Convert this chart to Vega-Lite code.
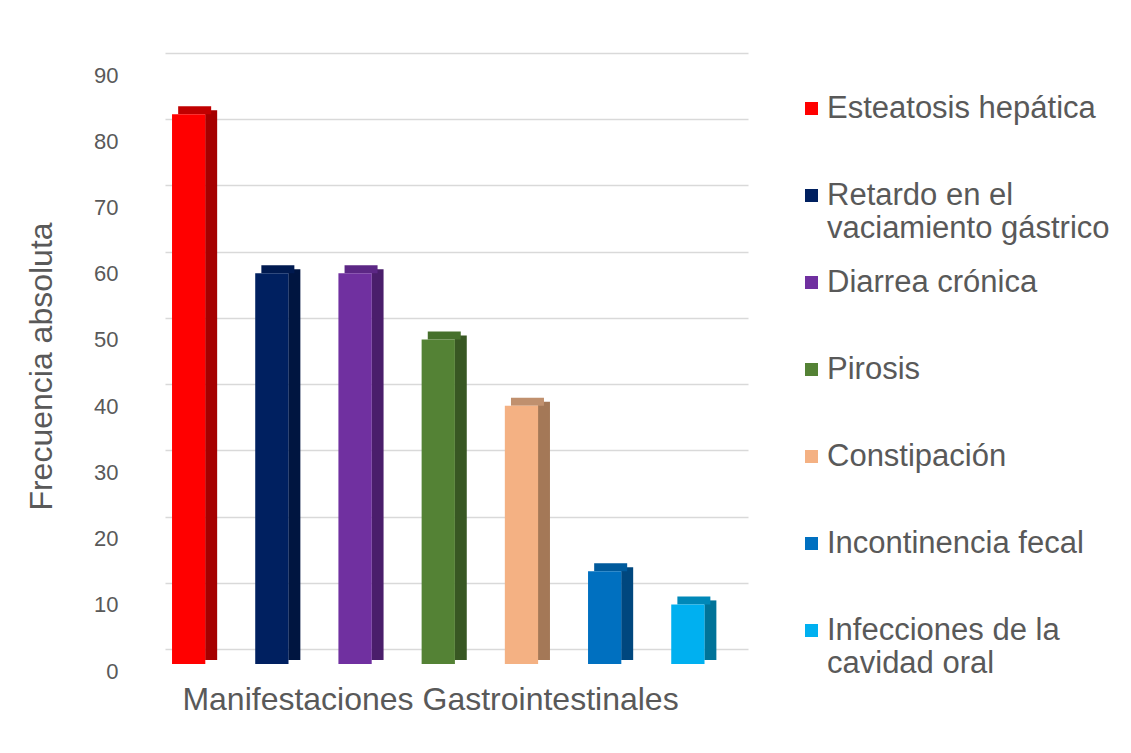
{
  "$schema": "https://vega.github.io/schema/vega-lite/v6.json",
  "autosize": "none",
  "width": 583,
  "height": 596,
  "padding": {"left": 165, "top": 68, "right": 383, "bottom": 89},
  "background": "white",
  "config": {
    "view": {"stroke": null},
    "font": "Liberation Sans"
  },
  "data": {
    "values": [
      {"cat": "Esteatosis hepática", "v": 83},
      {"cat": "Retardo en el vaciamiento gástrico", "v": 59},
      {"cat": "Diarrea crónica", "v": 59},
      {"cat": "Pirosis", "v": 49},
      {"cat": "Constipación", "v": 39},
      {"cat": "Incontinencia fecal", "v": 14},
      {"cat": "Infecciones de la cavidad oral", "v": 9}
    ]
  },
  "resolve": {"scale": {"y": "independent", "color": "independent"}},
  "layer": [
    {
      "mark": {"type": "bar", "opacity": 0},
      "encoding": {
        "x": {"field": "cat", "type": "nominal", "sort": null,
              "scale": {"paddingInner": 0.6, "paddingOuter": 0.3035, "align": 0.139},
              "axis": {"labels": false, "ticks": false, "domain": false,
                       "title": "Manifestaciones Gastrointestinales",
                       "titleFontSize": 32, "titleFontWeight": "normal", "titleColor": "#595959",
                       "titlePadding": 20, "titleX": 265}},
        "y": {"field": "v", "type": "quantitative",
              "scale": {"domain": [0, 90], "range": [581, -15], "nice": false},
              "axis": {"orient": "left", "grid": true, "gridColor": "#D9D9D9", "gridWidth": 1.3,
                       "labels": false, "ticks": false, "domain": false, "title": null,
                       "values": [0, 10, 20, 30, 40, 50, 60, 70, 80, 90]}}
      }
    },
    {
      "mark": {"type": "bar", "width": 12, "xOffset": 22.5, "yOffset": -4},
      "encoding": {
        "x": {"field": "cat", "type": "nominal", "sort": null},
        "y": {"field": "v", "type": "quantitative",
              "scale": {"domain": [0, 90], "nice": false}, "axis": null},
        "color": {"field": "cat", "type": "nominal", "legend": null,
                  "scale": {"domain": ["Esteatosis hepática", "Retardo en el vaciamiento gástrico", "Diarrea crónica", "Pirosis", "Constipación", "Incontinencia fecal", "Infecciones de la cavidad oral"],
                            "range": ["#A50000", "#001540", "#4A1E6B", "#385723", "#A47857", "#00477E", "#007399"]}}
      }
    },
    {
      "mark": {"type": "tick", "orient": "horizontal", "size": 33, "thickness": 8, "xOffset": 6, "yOffset": -4, "opacity": 1},
      "encoding": {
        "x": {"field": "cat", "type": "nominal", "sort": null},
        "y": {"field": "v", "type": "quantitative",
              "scale": {"domain": [0, 90], "nice": false}, "axis": null},
        "color": {"field": "cat", "type": "nominal", "legend": null,
                  "scale": {"domain": ["Esteatosis hepática", "Retardo en el vaciamiento gástrico", "Diarrea crónica", "Pirosis", "Constipación", "Incontinencia fecal", "Infecciones de la cavidad oral"],
                            "range": ["#C00000", "#001A50", "#5C2785", "#46702C", "#C0906E", "#005A9C", "#0088B8"]}}
      }
    },
    {
      "mark": {"type": "bar", "width": {"band": 1}},
      "encoding": {
        "x": {"field": "cat", "type": "nominal", "sort": null},
        "y": {"field": "v", "type": "quantitative",
              "scale": {"domain": [0, 90], "nice": false},
              "axis": {"orient": "left", "grid": false, "ticks": false, "domain": false,
                       "values": [0, 10, 20, 30, 40, 50, 60, 70, 80, 90],
                       "labelFontSize": 22, "labelColor": "#595959", "labelPadding": 47, "labelOffset": 7,
                       "title": "Frecuencia absoluta", "titleFontSize": 32, "titleFontWeight": "normal",
                       "titleColor": "#595959", "titlePadding": 35}},
        "color": {"field": "cat", "type": "nominal",
                  "scale": {"domain": ["Esteatosis hepática", "Retardo en el vaciamiento gástrico", "Diarrea crónica", "Pirosis", "Constipación", "Incontinencia fecal", "Infecciones de la cavidad oral"],
                            "range": ["#FF0000", "#002060", "#7030A0", "#548235", "#F4B183", "#0070C0", "#00B0F0"]},
                  "legend": {"orient": "none", "legendX": 631, "legendY": 25, "title": null,
                             "symbolType": "square", "symbolSize": 169, "symbolStrokeWidth": 0,
                             "labelFontSize": 31, "labelColor": "#595959", "labelOffset": 0,
                             "labelLimit": 400, "gridAlign": "all", "rowPadding": 22,
                             "labelExpr": "datum.label == 'Retardo en el vaciamiento gástrico' ? ['Retardo en el', 'vaciamiento gástrico'] : datum.label == 'Infecciones de la cavidad oral' ? ['Infecciones de la', 'cavidad oral'] : datum.label"}}
      }
    }
  ]
}
